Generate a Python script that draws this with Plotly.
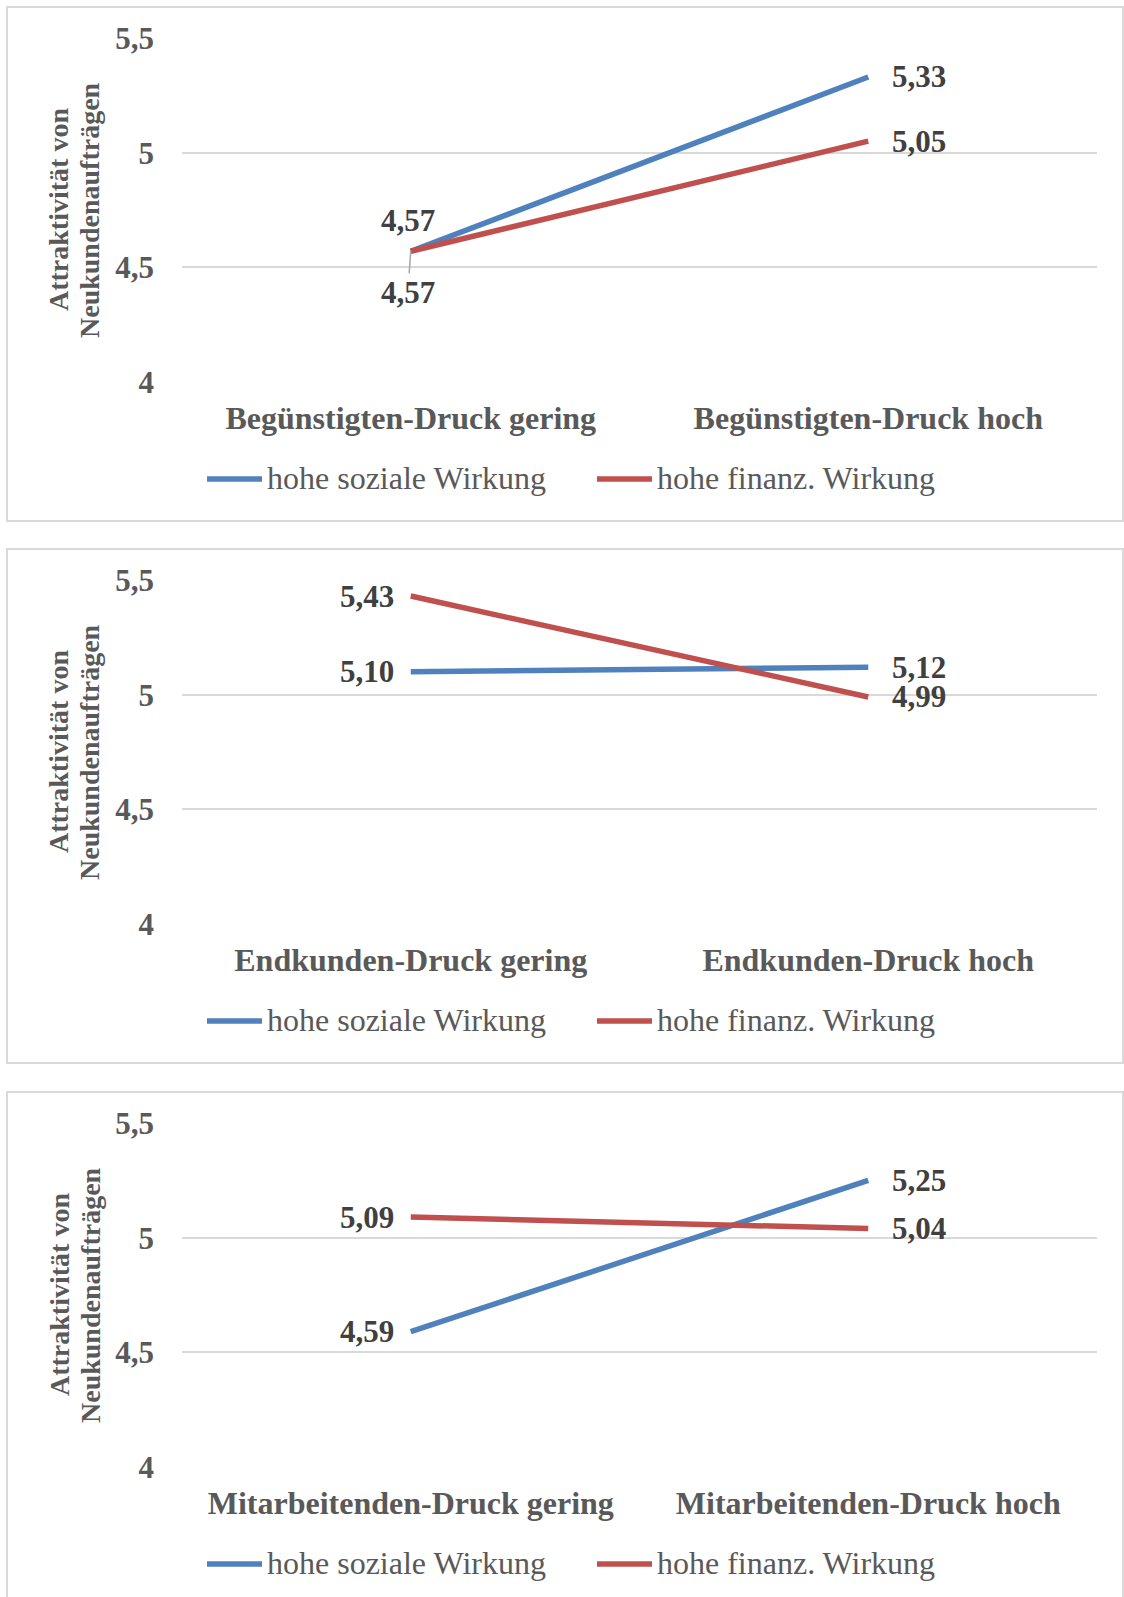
import plotly.graph_objects as go

# ---------------- data ----------------
categories = [
    ["Begünstigten-Druck gering", "Begünstigten-Druck hoch"],
    ["Endkunden-Druck gering", "Endkunden-Druck hoch"],
    ["Mitarbeitenden-Druck gering", "Mitarbeitenden-Druck hoch"],
]
series_names = ["hohe soziale Wirkung", "hohe finanz. Wirkung"]
social_values = [[4.57, 5.33], [5.10, 5.12], [4.59, 5.25]]
financial_values = [[4.57, 5.05], [5.43, 4.99], [5.09, 5.04]]
y_tick_values = [4, 4.5, 5, 5.5]
y_title_lines = ["Attraktivität von", "Neukundenaufträgen"]

# ---------------- style ----------------
W, H = 1124, 1597
FONT = "Liberation Serif"
GREY = "#595959"
DARK = "#404040"
GRID = "#d9d9d9"
COLORS = ["#4F81BD", "#C0504D"]

plot_left, plot_right = 182, 1097
panel_plot = [(38, 382), (580, 924), (1123, 1467)]      # pixel y of top/bottom of plot area
panel_box = [(7, 521), (549, 1063), (1092, 1606)]       # pixel y of frame

def px(x):
    return x / W

def py(y):
    return 1 - y / H

fig = go.Figure()
shapes = []
annotations = []

for i in range(3):
    sfx = "" if i == 0 else str(i + 1)
    xa, ya = "x" + sfx, "y" + sfx
    top, bot = panel_plot[i]
    series = [social_values[i], financial_values[i]]
    for s, vals in enumerate(series):
        fig.add_trace(go.Scatter(
            x=categories[i], y=vals, mode="lines", name=series_names[s],
            line=dict(color=COLORS[s], width=5.5), showlegend=False,
            xaxis=xa, yaxis=ya, cliponaxis=False, hoverinfo="skip"))

    fig.layout["xaxis" + sfx] = dict(
        domain=[px(plot_left), px(plot_right)], anchor=ya, type="category",
        range=[-0.5, 1.5], showgrid=False, zeroline=False, showline=False,
        ticks="", ticklabelstandoff=14, automargin=False,
        tickfont=dict(family=FONT, size=32, color=GREY, weight="bold"))
    fig.layout["yaxis" + sfx] = dict(
        domain=[py(bot), py(top)], anchor=xa, range=[4, 5.5],
        tickvals=y_tick_values, showgrid=True, gridcolor=GRID, gridwidth=2,
        zeroline=False, showline=False, ticks="", ticklabelstandoff=27,
        automargin=False,
        tickfont=dict(family=FONT, size=31, color=GREY, weight="bold"))

    # frame
    b0, b1 = panel_box[i]
    shapes.append(dict(type="rect", xref="paper", yref="paper",
                       x0=px(7), x1=px(1123), y0=py(b1), y1=py(b0),
                       line=dict(color=GRID, width=2), layer="below"))

    # y axis title (two lines)
    ymid = py((top + bot) / 2)
    for j, (txt, xc) in enumerate(zip(y_title_lines, [59, 90])):
        annotations.append(dict(
            text=txt, xref="paper", yref="paper", x=px(xc), y=ymid,
            xanchor="center", yanchor="middle", textangle=-90, showarrow=False,
            font=dict(family=FONT, size=28, color=GREY, weight="bold")))

    # data labels
    for s, vals in enumerate(series):
        for k, v in enumerate(vals):
            lab = f"{v:.2f}".replace(".", ",")
            base = dict(text=lab, xref=xa, yref=ya, x=categories[i][k], y=v,
                        font=dict(family=FONT, size=31, color=DARK, weight="bold"))
            if k == 1:
                base.update(xanchor="left", yanchor="middle", xshift=22, showarrow=False)
            elif i == 0:
                if s == 0:
                    base.update(xanchor="center", yanchor="middle", yshift=31, xshift=-3,
                                showarrow=False)
                else:
                    base.update(showarrow=True, arrowhead=0, arrowwidth=1.5,
                                arrowcolor="#a6a6a6", ax=-3, ay=41, standoff=0,
                                xanchor="center", yanchor="middle")
            else:
                base.update(xanchor="right", yanchor="middle", xshift=-15, showarrow=False)
            annotations.append(base)

    # legend (drawn per panel)
    ly = bot + 97
    for s, (x0, x1) in enumerate([(207, 262), (597, 652)]):
        shapes.append(dict(type="line", xref="paper", yref="paper",
                           x0=px(x0), x1=px(x1), y0=py(ly), y1=py(ly),
                           line=dict(color=COLORS[s], width=5.5)))
        annotations.append(dict(
            text=series_names[s], xref="paper", yref="paper", x=px(x1 + 3), y=py(ly - 1),
            xanchor="left", yanchor="middle", showarrow=False,
            font=dict(family=FONT, size=32, color=GREY)))

fig.update_layout(
    width=W, height=H, margin=dict(l=0, r=0, t=0, b=0, autoexpand=False),
    paper_bgcolor="white", plot_bgcolor="white",
    separators=",.", showlegend=False,
    shapes=shapes, annotations=annotations,
)

fig.write_html("out.html")
